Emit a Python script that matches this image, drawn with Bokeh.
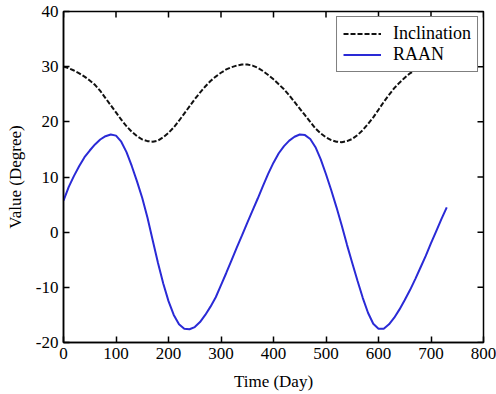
from math import pi
from bokeh.plotting import figure
from bokeh.models import Range1d, FixedTicker
from bokeh.embed import file_html
from bokeh.resources import INLINE

# ---- data ----
days = [0, 10, 20, 30, 40, 50, 60, 70, 80, 90,
        100, 110, 120, 130, 140, 150, 160, 170, 180, 190,
        200, 210, 220, 230, 240, 250, 260, 270, 280, 290,
        300, 310, 320, 330, 340, 350, 360, 370, 380, 390,
        400, 410, 420, 430, 440, 450, 460, 470, 480, 490,
        500, 510, 520, 530, 540, 550, 560, 570, 580, 590,
        600, 610, 620, 630, 640, 650, 660, 670, 680, 690,
        700, 710, 720, 730]

inclination = [30.0, 29.7, 29.3, 28.8, 28.2, 27.5, 26.7, 25.6, 24.3, 23.0,
               21.7, 20.4, 19.2, 18.2, 17.4, 16.8, 16.5, 16.4, 16.6, 17.2,
               18.0, 19.0, 20.2, 21.5, 22.8, 24.1, 25.3, 26.4, 27.4, 28.2,
               28.9, 29.5, 29.9, 30.2, 30.4, 30.4, 30.2, 29.8, 29.2, 28.5,
               27.7, 26.8, 25.9, 24.8, 23.6, 22.4, 21.2, 20.0, 18.8, 17.9,
               17.2, 16.7, 16.4, 16.3, 16.5, 16.9, 17.6, 18.5, 19.6, 20.8,
               22.2, 23.6, 24.9, 26.1, 27.1, 28.0, 28.8, 29.4, 29.9, 30.2,
               30.4, 30.4, 30.3, 30.0]

raan = [5.7, 8.2, 10.2, 12.0, 13.6, 14.8, 15.9, 16.8, 17.4, 17.7,
        17.5, 16.4, 14.5, 12.0, 9.2, 6.2, 2.6, -1.5, -5.6, -9.3,
        -12.5, -15.0, -16.7, -17.5, -17.6, -17.2, -16.3, -15.0, -13.5, -11.8,
        -9.6, -7.4, -5.1, -2.8, -0.6, 1.7, 3.9, 6.1, 8.4, 10.6,
        12.6, 14.3, 15.6, 16.6, 17.3, 17.7, 17.6, 16.9, 15.4, 13.2,
        10.5, 7.6, 4.5, 1.2, -2.3, -5.6, -8.8, -11.9, -14.6, -16.6,
        -17.5, -17.5, -16.7, -15.5, -14.0, -12.3, -10.5, -8.5, -6.4, -4.3,
        -2.0, 0.2, 2.4, 4.5]

x_ticks = [0, 100, 200, 300, 400, 500, 600, 700, 800]
y_ticks = [-20, -10, 0, 10, 20, 30, 40]
series_names = ["Inclination", "RAAN"]
x_title = "Time (Day)"
y_title = "Value (Degree)"

FONT = "Liberation Serif"
INK = "#000000"

p = figure(width=496, height=394, output_backend="svg", toolbar_location=None,
           x_range=Range1d(x_ticks[0], x_ticks[-1]),
           y_range=Range1d(y_ticks[0], y_ticks[-1]),
           min_border_left=63, min_border_right=13,
           min_border_top=11, min_border_bottom=52)
p.background_fill_color = "white"
p.border_fill_color = "white"
p.xgrid.visible = False
p.ygrid.visible = False
p.outline_line_color = INK
p.outline_line_width = 1.5

for ax, ticks, title, standoff in ((p.xaxis[0], x_ticks, x_title, 10),
                                   (p.yaxis[0], y_ticks, y_title, 8)):
    ax.ticker = FixedTicker(ticks=ticks)
    ax.major_label_overrides = {t: str(t) for t in ticks}
    ax.axis_line_color = INK
    ax.axis_line_width = 1.5
    ax.major_tick_in = 6
    ax.major_tick_out = 0
    ax.major_tick_line_color = INK
    ax.major_tick_line_width = 1.5
    ax.minor_tick_line_color = None
    ax.major_label_text_font = FONT
    ax.major_label_text_color = INK
    ax.major_label_text_font_size = "17px"
    ax.major_label_standoff = 5
    ax.axis_label = title
    ax.axis_label_text_font = FONT
    ax.axis_label_text_font_style = "normal"
    ax.axis_label_text_font_size = "17px"
    ax.axis_label_text_color = INK
    ax.axis_label_standoff = standoff

# mirrored inner ticks on the top and right edges of the box
p.scatter(x=x_ticks, y=[y_ticks[-1]] * len(x_ticks), marker="dash", angle=pi / 2,
          size=12, line_color=INK, line_width=1.5)
p.scatter(x=[x_ticks[-1]] * len(y_ticks), y=y_ticks, marker="dash", angle=0,
          size=12, line_color=INK, line_width=1.5)

p.line(days, inclination, line_color="#111111", line_width=2,
       line_dash="5 2", legend_label=series_names[0])
p.line(days, raan, line_color="#2a2ad6", line_width=2,
       legend_label=series_names[1])

lg = p.legend[0]
lg.location = "top_right"
lg.margin = 5
lg.padding = 6
lg.spacing = 0
lg.label_height = 17
lg.glyph_height = 17
lg.glyph_width = 38
lg.label_standoff = 12
lg.label_text_font = FONT
lg.label_text_font_size = "18px"
lg.label_text_color = INK
lg.border_line_color = INK
lg.border_line_width = 1.5
lg.background_fill_alpha = 1.0

open("out.html", "w").write(file_html(p, INLINE))
